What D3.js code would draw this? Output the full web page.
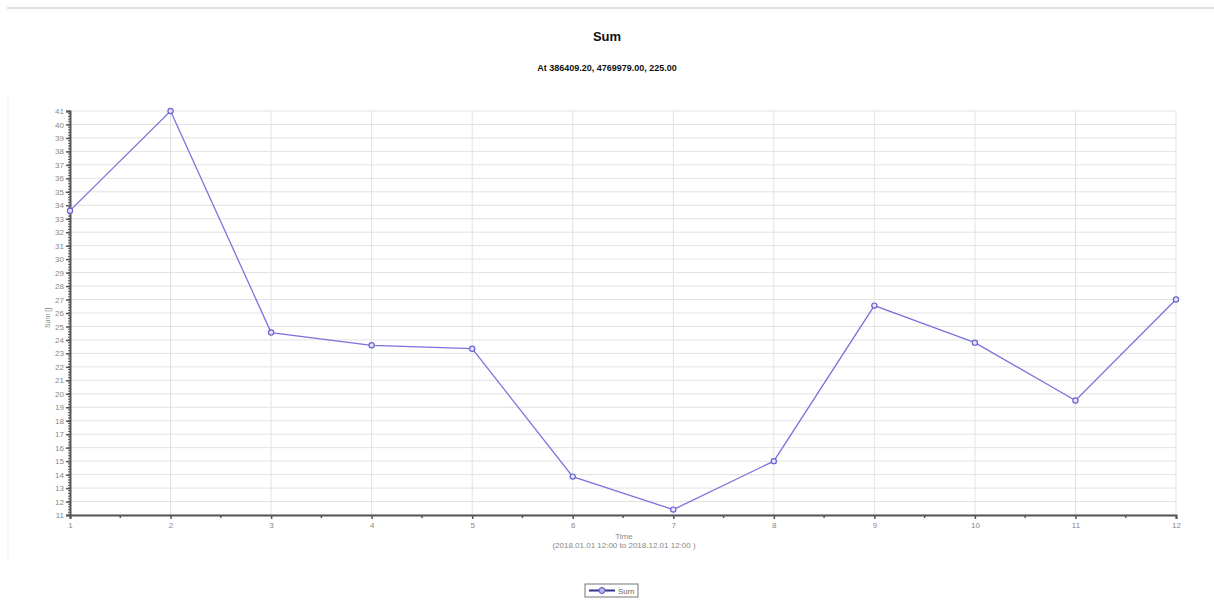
<!DOCTYPE html>
<html>
<head>
<meta charset="utf-8">
<script src="https://cdn.jsdelivr.net/npm/d3@7"></script>
<style>
    body { margin: 0; background: #fff; font-family: Arial, "Liberation Sans", sans-serif; }
    svg { display: block; }
</style>
</head>
<body>
<svg width="1214" height="601"></svg>
<script>
// data
var months = [1, 2, 3, 4, 5, 6, 7, 8, 9, 10, 11, 12];
var sums = [33.6, 41.0, 24.55, 23.6, 23.35, 13.85, 11.4, 15.0, 26.55, 23.8, 19.5, 27.0];
var yTicks = d3.range(11, 42);

var titleText = "Sum";
var subtitleText = "At 386409.20, 4769979.00, 225.00";
var xLabel = "Time";
var xRange = "(2018.01.01 12:00  to 2018.12.01 12:00 )";
var yLabel = "Sum []";

window.onload = main;

function main() {
    var svg = d3.select("svg");
    var left = 70, right = 1176, top = 111, bottom = 515;

    var x = d3.scaleLinear().domain([1, 12]).range([left, right]);
    var y = d3.scaleLinear().domain([11, 41]).range([bottom, top]);

    // frame
    svg.append("line")
        .attr("x1", 7).attr("x2", 1214).attr("y1", 8).attr("y2", 8)
        .style("stroke", "#d4d4d4").style("stroke-width", 1.5);
    svg.append("line")
        .attr("x1", 8).attr("x2", 8).attr("y1", 95).attr("y2", 560)
        .style("stroke", "#eeeeee");

    // titles
    svg.append("text").text(titleText)
        .attr("x", 607).attr("y", 41)
        .attr("text-anchor", "middle")
        .style("font-size", "13px").style("font-weight", "bold").style("fill", "#111");
    svg.append("text").text(subtitleText)
        .attr("x", 607).attr("y", 71)
        .attr("text-anchor", "middle")
        .style("font-size", "9px").style("font-weight", "bold").style("fill", "#111");

    // grid
    svg.append("g").selectAll("line")
        .data(yTicks)
        .enter().append("line")
        .attr("x1", left).attr("x2", right)
        .attr("y1", (d) => y(d)).attr("y2", (d) => y(d))
        .style("stroke", "#e2e2e2");
    svg.append("g").selectAll("line")
        .data(months)
        .enter().append("line")
        .attr("x1", (d) => x(d)).attr("x2", (d) => x(d))
        .attr("y1", top).attr("y2", bottom)
        .style("stroke", "#e2e2e2");

    // y axis with minor ticks
    var yMinor = d3.range(11, 41.01, 0.2);
    svg.append("g").selectAll("line")
        .data(yMinor)
        .enter().append("line")
        .attr("x1", left - 2).attr("x2", left)
        .attr("y1", (d) => y(d)).attr("y2", (d) => y(d))
        .style("stroke", "#555");
    var yAxis = svg.append("g")
        .attr("transform", "translate(" + left + ",0)")
        .call(d3.axisLeft(y).tickValues(yTicks).tickSize(4).tickPadding(2).tickFormat(d3.format("d")));
    yAxis.select(".domain").style("stroke", "#555").style("stroke-width", 2);
    yAxis.selectAll(".tick line").style("stroke", "#555").style("stroke-width", 1.5);
    yAxis.selectAll("text").style("fill", "#888").style("font-size", "8px");

    // x axis with minor ticks
    var xMinor = d3.range(1.5, 12, 1);
    svg.append("g").selectAll("line")
        .data(xMinor)
        .enter().append("line")
        .attr("x1", (d) => x(d)).attr("x2", (d) => x(d))
        .attr("y1", bottom).attr("y2", bottom + 3)
        .style("stroke", "#555").style("stroke-width", 1.5);
    var xAxis = svg.append("g")
        .attr("transform", "translate(0," + bottom + ")")
        .call(d3.axisBottom(x).tickValues(months).tickSize(4).tickPadding(3).tickFormat(d3.format("d")));
    xAxis.select(".domain").style("stroke", "#555").style("stroke-width", 2);
    xAxis.selectAll(".tick line").style("stroke", "#555").style("stroke-width", 1.5);
    xAxis.selectAll("text").style("fill", "#888").style("font-size", "8px");

    // axis labels
    svg.append("text").text(xLabel)
        .attr("x", 624).attr("y", 539)
        .attr("text-anchor", "middle")
        .style("font-size", "8px").style("fill", "#888");
    svg.append("text").text(xRange)
        .attr("x", 624).attr("y", 548)
        .attr("text-anchor", "middle")
        .style("font-size", "8px").style("fill", "#888");
    svg.append("text").text(yLabel)
        .attr("transform", "translate(50,318) rotate(-90)")
        .attr("text-anchor", "middle")
        .style("font-size", "7px").style("fill", "#888");

    // series
    var line = d3.line()
        .x((d, i) => x(months[i]))
        .y((d) => y(d));
    svg.append("path")
        .datum(sums)
        .attr("d", line)
        .style("fill", "none")
        .style("stroke", "#7b72dc")
        .style("stroke-width", 1.3);
    svg.append("g").selectAll("circle")
        .data(sums)
        .enter().append("circle")
        .attr("cx", (d, i) => x(months[i]))
        .attr("cy", (d) => y(d))
        .attr("r", 2.6)
        .style("fill", "#e6e4fa")
        .style("stroke", "#6a62cf")
        .style("stroke-width", 1.2);

    // legend
    var lg = svg.append("g").attr("transform", "translate(585,584)");
    lg.append("rect")
        .attr("width", 53).attr("height", 13)
        .style("fill", "#fff").style("stroke", "#777");
    lg.append("line")
        .attr("x1", 4).attr("x2", 30).attr("y1", 6.5).attr("y2", 6.5)
        .style("stroke", "#33338f").style("stroke-width", 2);
    lg.append("circle")
        .attr("cx", 17).attr("cy", 6.5).attr("r", 3)
        .style("fill", "#b8b4ee").style("stroke", "#5a52c0");
    lg.append("text").text("Sum")
        .attr("x", 33).attr("y", 9.5)
        .style("font-size", "8px").style("fill", "#666");
}
</script>
</body>
</html>
